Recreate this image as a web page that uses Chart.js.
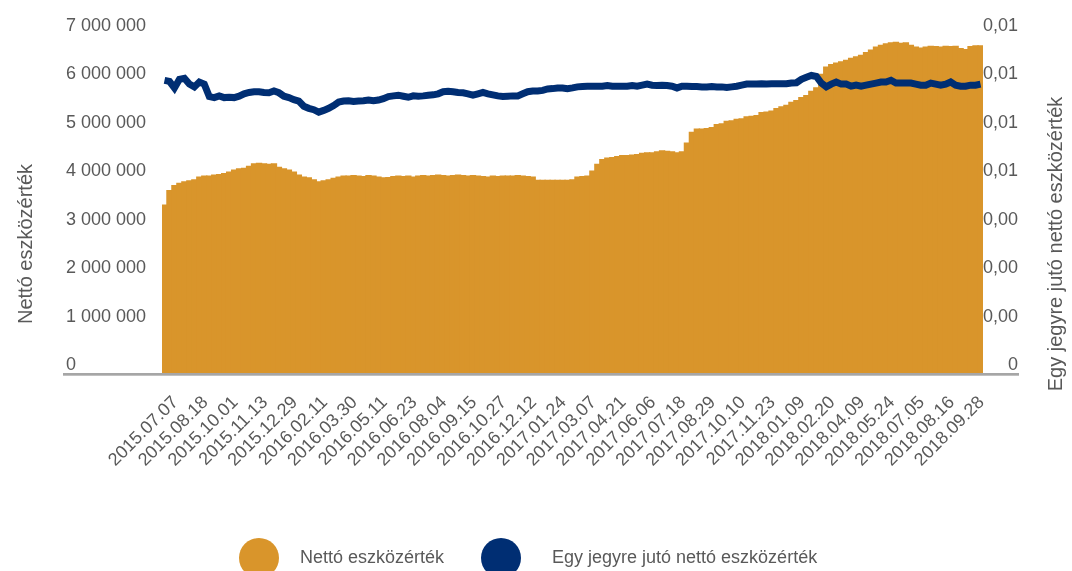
<!DOCTYPE html>
<html lang="hu">
<head>
<meta charset="utf-8">
<title>Nettó eszközérték</title>
<script src="https://cdn.jsdelivr.net/npm/chart.js@4.4.1/dist/chart.umd.min.js"></script>
<style>
  html, body { margin: 0; padding: 0; background: #fff; overflow: hidden; }
  #wrap { position: relative; width: 1072px; height: 571px; overflow: hidden; }
  #legend { position: absolute; left: 0; top: 0; width: 1072px; height: 571px; pointer-events: none;
            font-family: Arial, "Liberation Sans", sans-serif; font-size: 18px; color: #595959; }
  .dot { position: absolute; width: 40px; height: 40px; border-radius: 50%; }
  .txt { position: absolute; line-height: 20px; white-space: nowrap; }
</style>
</head>
<body>
<div id="wrap">
  <canvas id="chart" width="1072" height="571"></canvas>
  <div id="legend"></div>
</div>
<script>
// tick labels shown on the x axis (one every 6 weekly points)
const tickDates = [
  '2015.07.07', '2015.08.18', '2015.10.01', '2015.11.13', '2015.12.29', '2016.02.11', '2016.03.30',
  '2016.05.11', '2016.06.23', '2016.08.04', '2016.09.15', '2016.10.27', '2016.12.12', '2017.01.24',
  '2017.03.07', '2017.04.21', '2017.06.06', '2017.07.18', '2017.08.29', '2017.10.10', '2017.11.23',
  '2018.01.09', '2018.02.20', '2018.04.09', '2018.05.24', '2018.07.05', '2018.08.16', '2018.09.28'
];
const pointsPerTick = 6;

// Nettó eszközérték, millions
const netAssetsM = [
  3.30, 3.60, 3.70, 3.75, 3.78, 3.80, 3.82, 3.88, 3.90, 3.90, 3.92, 3.93, 3.95, 3.98, 4.02, 4.05,
  4.06, 4.10, 4.15, 4.16, 4.15, 4.14,
  4.15, 4.08, 4.05, 4.02, 3.98, 3.92, 3.88, 3.86, 3.82, 3.78, 3.80, 3.82, 3.85, 3.88, 3.90, 3.90,
  3.91, 3.90, 3.89, 3.91, 3.90, 3.88, 3.86, 3.87, 3.89, 3.90, 3.89, 3.90, 3.88, 3.90, 3.91, 3.90,
  3.91, 3.92, 3.91, 3.90, 3.91, 3.92, 3.91, 3.90, 3.91, 3.90, 3.89, 3.88,
  3.90, 3.89, 3.90, 3.90, 3.90, 3.91, 3.90, 3.89, 3.88, 3.81, 3.81, 3.81, 3.81, 3.81, 3.81, 3.81,
  3.82, 3.88, 3.89, 3.90, 4.00, 4.14, 4.24, 4.27, 4.28, 4.30, 4.32, 4.32, 4.33, 4.34, 4.37, 4.38,
  4.38, 4.40, 4.42, 4.41, 4.40, 4.38, 4.40, 4.58, 4.80, 4.87, 4.87,
  4.88, 4.90, 4.96, 4.98, 5.03, 5.04, 5.07, 5.08, 5.12, 5.13, 5.15, 5.21, 5.22, 5.24, 5.29, 5.33,
  5.36, 5.42, 5.46, 5.52, 5.56, 5.65, 5.72, 6.00, 6.15, 6.20, 6.23, 6.26, 6.29, 6.33, 6.36, 6.39,
  6.45, 6.50, 6.56, 6.60, 6.63, 6.65, 6.66, 6.64, 6.65, 6.60, 6.56,
  6.54, 6.56, 6.58, 6.57, 6.56, 6.58, 6.57, 6.58, 6.53, 6.51, 6.57, 6.59, 6.59
];

// Egy jegyre jutó nettó eszközérték
const perUnitValue = [
  0.00823, 0.00820, 0.00801, 0.00826, 0.00829, 0.00812, 0.00804, 0.00818, 0.00812, 0.00776, 0.00773,
  0.00778, 0.00773, 0.00774, 0.00773, 0.00777, 0.00784, 0.00788, 0.00790, 0.00790, 0.00788, 0.00787,
  0.00792, 0.00787, 0.00777, 0.00773, 0.00767, 0.00763, 0.00748, 0.00742, 0.00738, 0.00731, 0.00736,
  0.00742, 0.00750, 0.00760, 0.00763, 0.00764, 0.00762, 0.00763, 0.00764, 0.00766, 0.00764, 0.00766,
  0.00770, 0.00776, 0.00778, 0.00780, 0.00777, 0.00774, 0.00778, 0.00777, 0.00778, 0.00780, 0.00781,
  0.00784, 0.00790, 0.00791, 0.00790, 0.00788, 0.00787, 0.00784, 0.00780, 0.00784, 0.00788, 0.00784,
  0.00781, 0.00778, 0.00776, 0.00777, 0.00778, 0.00778, 0.00784, 0.00790, 0.00792, 0.00792, 0.00794,
  0.00798, 0.00799, 0.00801, 0.00801, 0.00799, 0.00801, 0.00804, 0.00805, 0.00806, 0.00806, 0.00806,
  0.00806, 0.00808, 0.00806, 0.00806, 0.00806, 0.00806, 0.00808, 0.00806, 0.00809, 0.00812, 0.00809,
  0.00808, 0.00809, 0.00808, 0.00806, 0.00801, 0.00806, 0.00806, 0.00805, 0.00805, 0.00804,
  0.00804, 0.00805, 0.00804, 0.00804, 0.00802, 0.00804, 0.00806, 0.00809, 0.00812, 0.00812, 0.00812,
  0.00813, 0.00812, 0.00813, 0.00813, 0.00813, 0.00813, 0.00815, 0.00816, 0.00826, 0.00832, 0.00837,
  0.00834, 0.00815, 0.00804, 0.00812, 0.00818, 0.00812, 0.00812, 0.00806, 0.00809, 0.00806, 0.00809,
  0.00812, 0.00815, 0.00818, 0.00818, 0.00823, 0.00815, 0.00815, 0.00815, 0.00815, 0.00812,
  0.00809, 0.00809, 0.00815, 0.00812, 0.00809, 0.00812, 0.00818, 0.00809, 0.00806, 0.00806, 0.00809,
  0.00809, 0.00812
];

const leftTicks = [0, 1000000, 2000000, 3000000, 4000000, 5000000, 6000000, 7000000];
const rightTicks = [0, 0.0014, 0.0028, 0.0042, 0.0056, 0.0070, 0.0084, 0.0098];

const ORANGE = '#d9952b';
const NAVY = '#002e73';
const TEXT = '#595959';
const FONT = 'Arial, "Liberation Sans", sans-serif';

// zero sits a little above the bottom edge of the plot, as in the original
const LEFT_MIN = -165000;
const RIGHT_MIN = -0.000231;

const labels = netAssetsM.map((v, i) =>
  i % pointsPerTick === 0 && tickDates[i / pointsPerTick] ? tickDates[i / pointsPerTick] : '');

const fmtThousands = v => String(v).replace(/\B(?=(\d{3})+(?!\d))/g, ' ');
const fmtRight = v => v === 0 ? '0' : v.toFixed(2).replace('.', ',');

// axis titles (both read bottom-to-top) and the wide grey base line
const extras = {
  id: 'extras',
  afterDatasetsDraw(chart) {
    const { ctx, chartArea, scales } = chart;
    ctx.save();
    ctx.fillStyle = '#a6a6a6';
    ctx.fillRect(scales.y.left - 3, chartArea.bottom, scales.y1.right + 1 - (scales.y.left - 3), 2.7);
    ctx.fillStyle = TEXT;
    ctx.font = '20px ' + FONT;
    ctx.textAlign = 'center';
    ctx.textBaseline = 'middle';
    [[26, 'Nettó eszközérték'], [1056, 'Egy jegyre jutó nettó eszközérték']].forEach(([x, t]) => {
      ctx.save();
      ctx.translate(x, 244);
      ctx.rotate(-Math.PI / 2);
      ctx.fillText(t, 0, 0);
      ctx.restore();
    });
    ctx.restore();
  }
};

Chart.defaults.font.family = FONT;
Chart.defaults.color = TEXT;

new Chart(document.getElementById('chart'), {
  type: 'bar',
  data: {
    labels: labels,
    datasets: [
      {
        type: 'line',
        label: 'Egy jegyre jutó nettó eszközérték',
        data: perUnitValue,
        yAxisID: 'y1',
        borderColor: NAVY,
        backgroundColor: NAVY,
        borderWidth: 7,
        pointRadius: 0,
        tension: 0,
        order: 0
      },
      {
        type: 'bar',
        label: 'Nettó eszközérték',
        data: netAssetsM.map(v => v * 1000000),
        yAxisID: 'y',
        backgroundColor: ORANGE,
        borderWidth: 0,
        barPercentage: 1,
        categoryPercentage: 1,
        inflateAmount: 0.7,
        base: LEFT_MIN,
        order: 1
      }
    ]
  },
  options: {
    responsive: false,
    animation: false,
    layout: { padding: { top: 26, left: 66, right: 54, bottom: 98 } },
    plugins: {
      legend: { display: false },
      tooltip: { enabled: false }
    },
    scales: {
      x: {
        grid: { display: false, drawTicks: false },
        border: { display: false },
        ticks: {
          autoSkip: false,
          maxRotation: 45,
          minRotation: 45,
          padding: 19,
          labelOffset: 11,
          font: { size: 18 },
          color: TEXT
        },
        afterFit(scale) { scale.height = 100; }
      },
      y: {
        position: 'left',
        min: LEFT_MIN,
        max: 7000000,
        grid: { display: false, drawTicks: false },
        border: { display: false },
        afterBuildTicks(scale) { scale.ticks = leftTicks.map(v => ({ value: v })); },
        ticks: {
          crossAlign: 'far',
          font: { size: 18 },
          color: TEXT,
          callback: v => fmtThousands(v)
        },
        afterFit(scale) { scale.width = 96; }
      },
      y1: {
        position: 'right',
        min: RIGHT_MIN,
        max: 0.0098,
        grid: { display: false, drawTicks: false },
        border: { display: false },
        afterBuildTicks(scale) { scale.ticks = rightTicks.map(v => ({ value: v })); },
        ticks: {
          crossAlign: 'far',
          font: { size: 18 },
          color: TEXT,
          callback: v => fmtRight(v)
        },
        afterFit(scale) { scale.width = 35; }
      }
    }
  },
  plugins: [extras]
});

// legend with the large round markers
const legendItems = [
  { text: 'Nettó eszközérték', color: ORANGE, dotX: 239, textX: 300 },
  { text: 'Egy jegyre jutó nettó eszközérték', color: NAVY, dotX: 481, textX: 552 }
];
const legendEl = document.getElementById('legend');
legendItems.forEach(item => {
  const dot = document.createElement('div');
  dot.className = 'dot';
  dot.style.left = item.dotX + 'px';
  dot.style.top = '538px';
  dot.style.background = item.color;
  legendEl.appendChild(dot);
  const txt = document.createElement('div');
  txt.className = 'txt';
  txt.style.left = item.textX + 'px';
  txt.style.top = '547px';
  txt.textContent = item.text;
  legendEl.appendChild(txt);
});
</script>
</body>
</html>
